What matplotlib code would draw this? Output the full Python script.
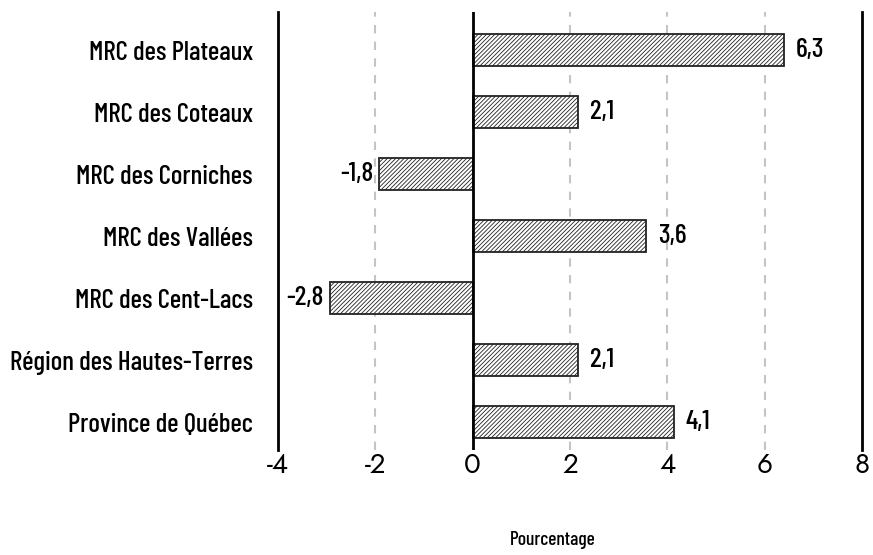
import matplotlib
matplotlib.use("Agg")
from matplotlib import pyplot as plt
import numpy as np

regions = ['MRC des Plateaux', 'MRC des Coteaux', 'MRC des Corniches',
           'MRC des Vallées', 'MRC des Cent-Lacs',
           'Région des Hautes-Terres', 'Province de Québec']
# bar lengths as drawn, and the printed labels
bar_lengths = [6.4, 2.17, -1.92, 3.57, -2.94, 2.17, 4.13]
labels = ['6,3', '2,1', '-1,8', '3,6', '-2,8', '2,1', '4,1']
xticks = [-4, -2, 0, 2, 4, 6, 8]

cond = ['Barlow Condensed', 'DejaVu Sans']

plt.rcParams['hatch.linewidth'] = 0.6
plt.rcParams['hatch.color'] = '#555555'

fig = plt.figure(figsize=(8.73, 5.55), dpi=100)
ax = fig.add_axes([0.3184, 0.189, 0.669, 0.789])

y = np.arange(len(regions))
ax.barh(y, bar_lengths, height=0.52, color='white', edgecolor='#222222',
        linewidth=1.3, hatch='////////', zorder=3)

for v, yy, lab in zip(bar_lengths, y, labels):
    if v >= 0:
        ax.text(v + 0.24, yy, lab, ha='left', va='center', fontsize=20,
                family=cond, weight='medium', zorder=4)
    else:
        ax.text(v - 0.12, yy, lab, ha='right', va='center', fontsize=20,
                family=cond, weight='medium', zorder=4)

ax.set_xlim(-4, 8)
ax.set_ylim(len(regions) - 0.55, -0.61)
ax.set_xticks(xticks)
ax.set_xticklabels([str(t) for t in xticks], fontsize=20, family=['Jost', 'DejaVu Sans'])
ax.set_yticks(y)
ax.set_yticklabels(regions, fontsize=19.5, family=cond, weight='medium')
ax.tick_params(axis='both', length=0)
ax.tick_params(axis='y', pad=18)
ax.tick_params(axis='x', pad=1)

for t in [-2, 2, 4, 6]:
    ax.axvline(t, color='#c4c4c4', linestyle=(0, (4, 4)), linewidth=1.5, zorder=1)
ax.axvline(0, color='black', linewidth=2, zorder=5)

ax.spines['top'].set_visible(False)
ax.spines['bottom'].set_visible(False)
ax.spines['left'].set_linewidth(2)
ax.spines['right'].set_linewidth(2)

fig.text(553 / 873, 1 - 540 / 555, 'Pourcentage', fontsize=14, family=cond,
         weight='medium', ha='center', va='center')

fig.savefig('out.png', dpi=100)
